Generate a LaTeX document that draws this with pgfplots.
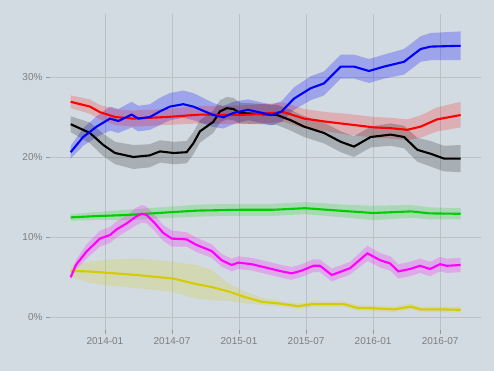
\documentclass[border=0pt]{standalone}
\usepackage{xcolor}
\usepackage{pgfplots}
\usepackage{pgfplotstable}
\pgfplotsset{compat=1.18}
\usepgfplotslibrary{fillbetween}
\usepackage{fontspec}
\setmainfont{Liberation Sans}
\definecolor{bg}{RGB}{211,219,226}
\definecolor{gridgray}{RGB}{186,193,199}
\definecolor{tickgray}{RGB}{150,150,150}
\definecolor{labgray}{RGB}{125,125,125}
\definecolor{lgreen}{RGB}{0,204,0}
\definecolor{lyellow}{RGB}{212,204,0}
\definecolor{lmag}{RGB}{255,0,255}
\definecolor{lblue}{RGB}{0,0,255}
\definecolor{lred}{RGB}{255,0,0}
\pagecolor{bg}

\pgfplotstableread{
m mid lo hi
-3.07 20.6 19.8 21.4
-1.95 22.5 21.4 23.6
-0.74 23.8 22.5 25.1
0.45 24.8 23.3 26.3
1.2 24.5 23.0 26.0
2.39 25.3 23.7 26.9
2.99 24.8 23.2 26.4
4.03 25.0 23.4 26.6
4.92 25.7 24.0 27.4
5.82 26.3 24.6 28.0
7.01 26.6 24.9 28.3
7.9 26.3 24.6 28.0
9.7 25.25 23.75 26.75
10.59 24.96 23.56 26.36
11.49 25.5 24.1 26.9
12.8 25.9 24.6 27.2
14.92 25.25 23.95 26.55
15.82 25.7 24.4 27.0
16.92 27.3 25.9 28.7
18.42 28.6 27.1 30.1
19.61 29.2 27.7 30.7
21.1 31.3 29.8 32.8
22.29 31.3 29.8 32.8
23.63 30.75 29.25 32.25
24.98 31.3 29.8 32.8
26.77 31.9 30.3 33.5
28.26 33.5 31.9 35.1
29.16 33.8 32.1 35.5
31.84 33.9 32.1 35.7
}\blueT

\pgfplotstableread{
m mid lo hi
-3.07 26.9 26.1 27.7
-1.34 26.3 25.4 27.2
-0.45 25.6 24.7 26.5
0.9 25.0 24.0 26.0
2.51 24.8 23.8 25.8
5.55 25.0 24.0 26.0
8.5 25.3 24.2 26.4
11.19 25.25 24.1 26.4
12.98 25.3 24.1 26.5
16.02 25.6 24.4 26.8
17.82 24.8 23.6 26.0
19.87 24.4 23.2 25.6
21.67 24.1 22.8 25.4
24.08 23.7 22.4 25.0
25.58 23.6 22.3 24.9
27.06 23.4 22.1 24.7
28.26 23.8 22.4 25.2
29.72 24.7 23.2 26.2
31.84 25.25 23.7 26.9
}\redT

\pgfplotstableread{
m mid lo hi
-3.07 24.1 23.1 25.1
-1.34 23.0 21.7 24.3
-0.15 21.5 20.1 22.9
0.9 20.5 19.1 21.9
2.54 20.0 18.5 21.5
4.0 20.2 18.7 21.6
4.93 20.7 19.3 22.1
6.12 20.5 19.1 21.9
7.31 20.6 19.2 22.0
7.91 21.7 20.3 23.1
8.5 23.2 21.8 24.6
9.1 23.8 22.4 25.2
9.7 24.4 23.0 25.8
10.3 25.7 24.3 27.1
10.9 26.1 24.7 27.5
11.49 26.0 24.6 27.4
12.08 25.5 24.2 26.8
15.4 25.25 24.0 26.5
16.62 24.6 23.3 25.9
17.82 23.8 22.5 25.1
19.61 23.0 21.7 24.3
21.1 21.9 20.6 23.2
22.29 21.3 20.0 22.6
23.79 22.5 21.2 23.8
25.58 22.8 21.4 24.2
26.77 22.5 21.1 23.9
27.96 20.9 19.4 22.4
29.16 20.4 18.8 22.0
30.35 19.8 18.2 21.4
31.84 19.8 18.1 21.5
}\blackT

\pgfplotstableread{
m mid lo hi
-3.07 12.45 12.05 12.85
-1.0 12.6 12.1 13.1
1.95 12.75 12.1 13.4
5.88 13.1 12.4 13.8
8.28 13.3 12.55 14.05
12 13.4 12.65 14.15
15 13.4 12.65 14.15
17.9 13.6 12.85 14.35
21.4 13.25 12.45 14.05
24.0 13.0 12.1 13.9
27.4 13.2 12.4 14.0
29.1 12.95 12.2 13.7
31.84 12.9 12.2 13.6
}\greenT

\pgfplotstableread{
m mid lo hi
-3.07 4.96 4.66 5.26
-2.6 6.5 5.9 7.1
-1.64 8.2 7.3 9.1
-0.45 9.8 8.8 10.8
0.45 10.25 9.25 11.25
1.05 10.96 9.96 11.96
1.94 11.7 10.7 12.7
2.84 12.6 11.5 13.7
3.29 12.9 11.8 14.0
3.73 12.75 11.7 13.8
4.48 11.7 10.7 12.7
5.22 10.5 9.5 11.5
5.97 9.8 8.8 10.8
7.31 9.7 8.8 10.6
8.21 9.0 8.1 9.9
9.55 8.25 7.4 9.1
10.44 7.1 6.3 7.9
11.34 6.5 5.7 7.3
11.93 6.8 6.0 7.6
13.13 6.6 5.8 7.4
14.03 6.3 5.5 7.1
15.82 5.7 4.9 6.5
16.71 5.45 4.65 6.25
17.61 5.8 5.0 6.6
18.65 6.4 5.6 7.2
19.25 6.4 5.6 7.2
20.3 5.25 4.45 6.05
21.94 6.1 5.3 6.9
23.49 7.96 7.0 8.9
24.62 7.1 6.2 8.0
25.52 6.7 5.8 7.6
26.26 5.7 4.8 6.6
27.31 6.0 5.1 6.9
28.2 6.4 5.5 7.3
29.1 6.0 5.1 6.9
29.99 6.6 5.7 7.5
30.6 6.4 5.5 7.3
31.84 6.5 5.6 7.4
}\magT

\pgfplotstableread{
m mid lo hi
-3.07 5.75 5.0 6.4
-1.5 5.7 4.3 6.9
0.45 5.5 3.9 7.2
2.84 5.25 3.6 7.3
4.92 4.96 3.3 7.1
6.12 4.8 3.1 6.9
8.21 4.1 2.3 6.5
9.55 3.75 2.1 5.9
11.04 3.2 2.0 4.2
12.53 2.5 1.7 3.2
14.03 1.9 1.5 2.4
15.51 1.7 1.35 2.05
17.31 1.35 1.0 1.7
18.5 1.6 1.25 1.95
19.9 1.6 1.25 1.95
21.4 1.6 1.25 1.95
22.59 1.15 0.8 1.5
24.0 1.1 0.75 1.45
25.87 0.95 0.6 1.3
27.37 1.3 0.95 1.65
28.26 0.95 0.6 1.3
30.0 0.95 0.6 1.3
31.84 0.9 0.55 1.25
}\yelT

\begin{document}
\begin{tikzpicture}
\path (0pt,0pt) rectangle (494pt,371pt);
\begin{axis}[
  at={(50pt,41pt)}, anchor=south west,
  scale only axis, width=431pt, height=316pt,
  xmin=-4.92, xmax=33.66, ymin=-1.625, ymax=37.875,
  axis line style={draw=none},
  grid=major, grid style={draw=gridgray, line width=0.9pt},
  tick style={draw=tickgray, line width=0.9pt},
  major tick length=4pt, tick align=outside,
  xtick pos=left, ytick pos=left,
  xtick={0,6,12,18,24,30},
  xticklabels={2014-01,2014-07,2015-01,2015-07,2016-01,2016-07},
  ytick={0,10,20,30},
  yticklabels={0\%,10\%,20\%,30\%},
  tick label style={font=\fontsize{10}{12}\selectfont, text=labgray},
]
% bands
\addplot[name path=bU, draw=none, forget plot] table[x=m,y=hi]{\blueT};
\addplot[name path=bL, draw=none, forget plot] table[x=m,y=lo]{\blueT};
\addplot[fill=lblue, fill opacity=0.25, draw=none] fill between[of=bU and bL];
\addplot[name path=rU, draw=none, forget plot] table[x=m,y=hi]{\redT};
\addplot[name path=rL, draw=none, forget plot] table[x=m,y=lo]{\redT};
\addplot[fill=lred, fill opacity=0.2, draw=none] fill between[of=rU and rL];
\addplot[name path=kU, draw=none, forget plot] table[x=m,y=hi]{\blackT};
\addplot[name path=kL, draw=none, forget plot] table[x=m,y=lo]{\blackT};
\addplot[fill=black, fill opacity=0.2, draw=none] fill between[of=kU and kL];
\addplot[name path=gU, draw=none, forget plot] table[x=m,y=hi]{\greenT};
\addplot[name path=gL, draw=none, forget plot] table[x=m,y=lo]{\greenT};
\addplot[fill=lgreen, fill opacity=0.2, draw=none] fill between[of=gU and gL];
\addplot[name path=mU, draw=none, forget plot] table[x=m,y=hi]{\magT};
\addplot[name path=mL, draw=none, forget plot] table[x=m,y=lo]{\magT};
\addplot[fill=lmag, fill opacity=0.22, draw=none] fill between[of=mU and mL];
\addplot[name path=yU, draw=none, forget plot] table[x=m,y=hi]{\yelT};
\addplot[name path=yL, draw=none, forget plot] table[x=m,y=lo]{\yelT};
\addplot[fill=lyellow, fill opacity=0.2, draw=none] fill between[of=yU and yL];
% lines
\addplot[black, line width=2.1pt, no marks] table[x=m,y=mid]{\blackT};
\addplot[lred, line width=2.1pt, no marks] table[x=m,y=mid]{\redT};
\addplot[lblue, line width=2.1pt, no marks] table[x=m,y=mid]{\blueT};
\addplot[lgreen, line width=2.1pt, no marks] table[x=m,y=mid]{\greenT};
\addplot[lyellow, line width=2.1pt, no marks] table[x=m,y=mid]{\yelT};
\addplot[lmag, line width=2.1pt, no marks] table[x=m,y=mid]{\magT};
\end{axis}
\end{tikzpicture}
\end{document}
